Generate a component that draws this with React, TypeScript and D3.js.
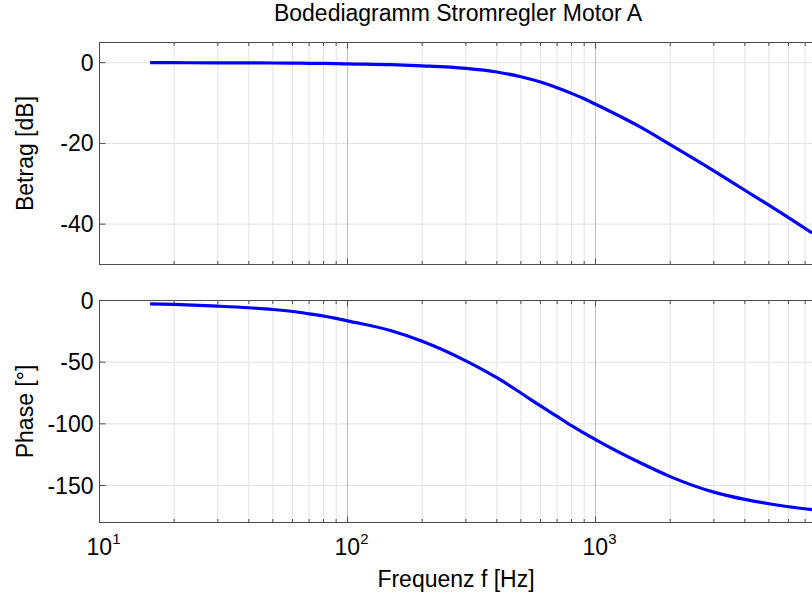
import * as d3 from "d3";

// frequency response
const freqHz = [16, 20, 30, 40, 50, 60, 70, 80, 90, 100, 150, 200, 300, 400, 500, 600, 700, 800, 900, 1000, 1500, 2000, 3000, 4000, 5000, 6000, 7460];
const magnitudeDb = [0, -0.01, -0.03, -0.05, -0.08, -0.11, -0.15, -0.19, -0.24, -0.3, -0.5, -0.78, -1.4, -2.3, -3.5, -4.8, -6.2, -7.6, -8.95, -10.3, -15.8, -20.3, -26.8, -31.6, -35.3, -38.4, -42.2];
const phaseDeg = [-2.7, -3.2, -4.6, -5.9, -7.3, -8.9, -10.8, -12.6, -14.5, -16.5, -24.5, -33, -48.9, -62.6, -75, -85.5, -94, -101.5, -107.5, -112.8, -131.2, -142.8, -155.4, -161.3, -164.8, -167.2, -169.6];

const magTicks = [0, -20, -40];
const phaseTicks = [0, -50, -100, -150];
const decadeTicks = [10, 100, 1000];

const W = 812;
const H = 592;
const left = 99.5;
const right = 812.5;
const font = "'Liberation Sans', Arial, sans-serif";

type PanelProps = {
  top: number;
  bottom: number;
  domain: [number, number];
  ticks: number[];
  values: number[];
  label: string;
  id: string;
};

const x = d3.scaleLog().domain([10, 7460]).range([left, 812]);

function minorFreqs() {
  const out: number[] = [];
  for (const dec of [10, 100, 1000]) {
    for (let k = 2; k <= 9; k++) {
      const f = dec * k;
      if (f <= 7460) out.push(f);
    }
  }
  return out;
}

function Panel({ top, bottom, domain, ticks, values, label, id }: PanelProps) {
  const y = d3.scaleLinear().domain(domain).range([bottom, top]);
  const line = d3
    .line<number>()
    .x((_, i) => x(freqHz[i]))
    .y((d) => y(d))
    .curve(d3.curveMonotoneX);
  const minors = minorFreqs();
  const majors = [100, 1000];

  return (
    <g>
      <defs>
        <clipPath id={id}>
          <rect x={left} y={top} width={right - left} height={bottom - top} />
        </clipPath>
      </defs>
      {ticks.map((t) => (
        <line key={`hg-${t}`} x1={left} x2={right} y1={y(t)} y2={y(t)} stroke="#e2e2e2" strokeWidth={1} />
      ))}
      {minors.map((f) => (
        <line key={`vg-${f}`} x1={x(f)} x2={x(f)} y1={top} y2={bottom} stroke="#e2e2e2" strokeWidth={1} />
      ))}
      {majors.map((f) => (
        <line key={`vm-${f}`} x1={x(f)} x2={x(f)} y1={top} y2={bottom} stroke="#bdbdbd" strokeWidth={1} />
      ))}
      {minors.map((f) => (
        <g key={`mt-${f}`} stroke="#4d4d4d" strokeWidth={1}>
          <line x1={x(f)} x2={x(f)} y1={bottom} y2={bottom - 3.5} />
          <line x1={x(f)} x2={x(f)} y1={top} y2={top + 3.5} />
        </g>
      ))}
      {majors.map((f) => (
        <g key={`Mt-${f}`} stroke="#4d4d4d" strokeWidth={1}>
          <line x1={x(f)} x2={x(f)} y1={bottom} y2={bottom - 6} />
          <line x1={x(f)} x2={x(f)} y1={top} y2={top + 6} />
        </g>
      ))}
      {ticks.map((t) => (
        <g key={`yt-${t}`}>
          <line x1={left} x2={left + 6} y1={y(t)} y2={y(t)} stroke="#4d4d4d" strokeWidth={1} />
          <text
            x={93.5}
            y={y(t) + 8}
            textAnchor="end"
            fontSize={23}
            fill="#000"
          >
            {t}
          </text>
        </g>
      ))}
      <path
        d={line(values) ?? ""}
        fill="none"
        stroke="#0000ff"
        strokeWidth={3.2}
        clipPath={`url(#${id})`}
        strokeLinejoin="round"
      />
      <rect x={left} y={top} width={right - left} height={bottom - top} fill="none" stroke="#4d4d4d" strokeWidth={1} />
      <text
        transform={`translate(32.5, ${(top + bottom) / 2}) rotate(-90)`}
        textAnchor="middle"
        fontSize={23}
        fill="#000"
      >
        {label}
      </text>
    </g>
  );
}

export default function App() {
  return (
    <svg
      width={W}
      height={H}
      style={{ position: "absolute", left: 0, top: 0, background: "#fff", fontFamily: font }}
    >
      <rect width={W} height={H} fill="#fff" />
      <text x={458} y={21} textAnchor="middle" fontSize={23} fill="#000">
        Bodediagramm Stromregler Motor A
      </text>
      <Panel
        top={42.5}
        bottom={264.5}
        domain={[-50, 5]}
        ticks={magTicks}
        values={magnitudeDb}
        label="Betrag [dB]"
        id="clip-mag"
      />
      <Panel
        top={300.5}
        bottom={522.5}
        domain={[-180, 0]}
        ticks={phaseTicks}
        values={phaseDeg}
        label="Phase [°]"
        id="clip-phase"
      />
      {decadeTicks.map((f) => (
        <text key={`xl-${f}`} x={x(f) + 4} y={555} textAnchor="middle" fontSize={23} fill="#000">
          10
          <tspan fontSize={15} dy={-11}>
            {Math.round(Math.log10(f))}
          </tspan>
        </text>
      ))}
      <text x={456} y={587} textAnchor="middle" fontSize={23} fill="#000">
        Frequenz f [Hz]
      </text>
    </svg>
  );
}
